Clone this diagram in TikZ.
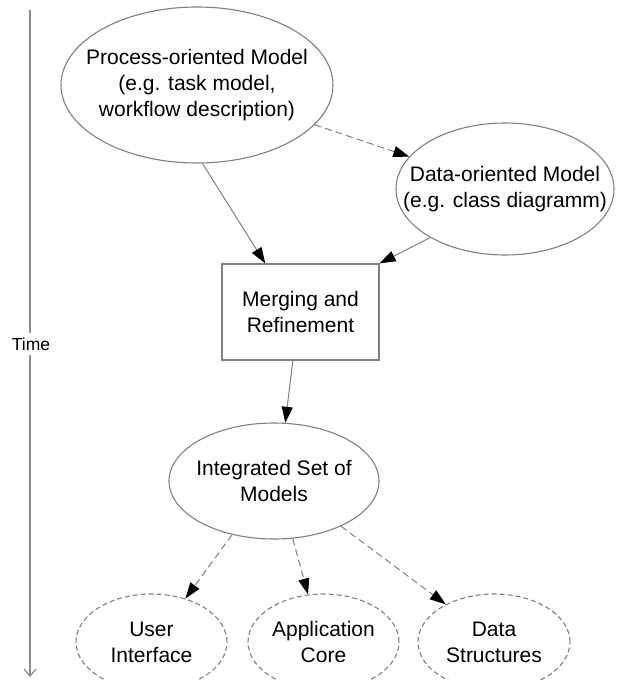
\documentclass[tikz,border=0pt]{standalone}
\usepackage{fontspec}
\setmainfont{Liberation Sans}
\usetikzlibrary{arrows.meta,shapes.geometric}

\tikzset{
  model/.style={draw=black!50,ellipse,line width=1.1pt,inner sep=0pt},
  result/.style={model,dash pattern=on 5pt off 3pt},
  stepbox/.style={draw=black!50,rectangle,line width=1.1pt,inner sep=0pt},
  txt/.style={align=center,inner sep=0pt},
  flow/.style={draw=black!50,line width=1pt,-{Triangle[length=16pt,width=11pt,color=black]}},
  dflow/.style={flow,dash pattern=on 7pt off 4pt}
}

\begin{document}
\begin{tikzpicture}[x=1pt,y=-1pt,font=\fontsize{21}{26}\selectfont]
\useasboundingbox (0,0) rectangle (629,680);
% time axis
\coordinate (t0) at (30,10);\coordinate (t1) at (30,677);
\draw[black!45,line width=1.2pt,-{Straight Barb[length=7pt,width=12pt]}](t0)--(t1);
\node[fill=white,inner xsep=1pt,inner ysep=5pt,font=\fontsize{17.5}{20}\selectfont](time)at(31,344){Time};
% models
\node[model,minimum width=272pt,minimum height=156pt,label={[txt]center:{Process-oriented Model\\(e.g. task model,\\workflow description)}}](proc)at(197,85){};
\node[model,minimum width=218pt,minimum height=132pt,label={[txt]center:{Data-oriented Model\\(e.g. class diagramm)}}](data)at(505,189){};
\node[stepbox,minimum width=157pt,minimum height=96pt,label={[txt]center:{Merging and\\Refinement}}](merge)at(300.5,312){};
\node[model,minimum width=210pt,minimum height=116pt,label={[txt]center:{Integrated Set of\\Models}}](integ)at(274,481){};
\node[result,minimum width=151pt,minimum height=96pt,label={[txt]center:{User\\Interface}}](ui)at(151.5,642){};
\node[result,minimum width=151pt,minimum height=96pt,label={[txt]center:{Application\\Core}}](core)at(323.5,642){};
\node[result,minimum width=152pt,minimum height=96pt,label={[txt]center:{Data\\Structures}}](struct)at(494,642){};
% connectors
\draw[dflow](proc)--(data);
\draw[flow](proc.-86)--(merge.126.5);
\draw[flow](data.-147)--(merge.north east);
\draw[flow](merge.-99)--(integ.79);
\draw[dflow](integ.-128)--(ui.52);
\draw[dflow](integ.-72)--(core.108);
\draw[dflow](integ.-34)--(struct.142);
\end{tikzpicture}
\end{document}
